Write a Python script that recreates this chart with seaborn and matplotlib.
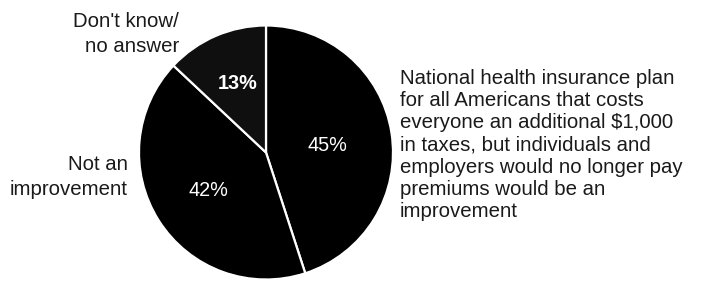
import matplotlib
matplotlib.use("Agg")
import matplotlib.pyplot as plt
import seaborn as sns

# data
categories = ["Improvement", "Not an improvement", "Don't know/no answer"]
shares = [45, 42, 13]
pct_labels = ["45%", "42%", "13%"]
slice_colors = ["#000000", "#000000", "#0f0f0f"]

left_top_label = ["Don't know/", "no answer"]
left_mid_label = ["Not an", "improvement"]
right_label = [
    "National health insurance plan",
    "for all Americans that costs",
    "everyone an additional $1,000",
    "in taxes, but individuals and",
    "employers would no longer pay",
    "premiums would be an",
    "improvement",
]

sns.set_theme(style="white")
plt.rcParams["font.family"] = ["Liberation Sans", "DejaVu Sans"]

W, H = 702, 286
fig = plt.figure(figsize=(W / 100, H / 100), dpi=100)
fig.patch.set_facecolor("white")

# pie box in pixels: centre (266, 152.5), radius 127
cx, cy, r = 266, 152.5, 127
ax = fig.add_axes([(cx - r) / W, (H - cy - r) / H, 2 * r / W, 2 * r / H])
ax.pie(
    shares,
    colors=slice_colors,
    startangle=90,
    counterclock=False,
    radius=1,
    wedgeprops=dict(edgecolor="white", linewidth=1.6),
)
ax.set_xlim(-1, 1)
ax.set_ylim(-1, 1)
ax.set_aspect("equal")
ax.axis("off")

# percent labels inside the wedges (data coords of the pie)
pct_pos = [(0.48, 0.055), (-0.457, -0.30), (-0.22, 0.54)]
pct_weight = ["normal", "normal", "bold"]
for lab, (x, y), wt in zip(pct_labels, pct_pos, pct_weight):
    ax.text(x, y, lab, color="white", fontsize=14.3, fontweight=wt,
            ha="center", va="center")


def px(x, y):
    return x / W, 1 - y / H


def put_lines(lines, x, y0, step, ha):
    for i, line in enumerate(lines):
        fx, fy = px(x, y0 + i * step)
        fig.text(fx, fy, line, fontsize=14.7, color="#1a1a1a",
                 ha=ha, va="baseline")


put_lines(left_top_label, 179, 27, 25, "right")
put_lines(left_mid_label, 128, 170, 25, "right")
put_lines(right_label, 400, 84, 22.2, "left")

fig.savefig("out.png", dpi=100, facecolor="white")
